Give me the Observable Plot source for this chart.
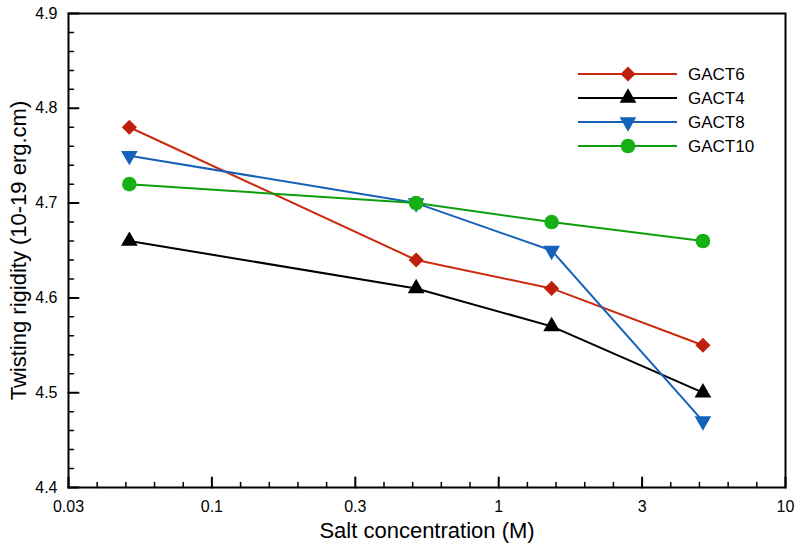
<!DOCTYPE html>
<html><head><meta charset="utf-8">
<script src="https://cdn.jsdelivr.net/npm/d3@7"></script>
<script src="https://cdn.jsdelivr.net/npm/@observablehq/plot@0.6"></script>
<style>
body{margin:0;background:#fff;font-family:"Liberation Sans",Arial,sans-serif}
g[aria-label="x-axis tick label"], g[aria-label="y-axis tick label"]{font-size:16px}
</style>
</head><body><div id="chart"></div>
<script>
// ---- data ----
const concentration = [0.05, 0.5, 1.5, 5];
const seriesNames = ["GACT6", "GACT4", "GACT8", "GACT10"];
const gact6 = [4.78, 4.64, 4.61, 4.55];
const gact4 = [4.66, 4.61, 4.57, 4.50];
const gact8 = [4.75, 4.70, 4.65, 4.47];
const gact10 = [4.72, 4.70, 4.68, 4.66];
const xTicks = [0.03, 0.1, 0.3, 1, 3, 10];
const xTickLabels = ["0.03", "0.1", "0.3", "1", "3", "10"];
const yTicks = [4.4, 4.5, 4.6, 4.7, 4.8, 4.9];
const yTickLabels = ["4.4", "4.5", "4.6", "4.7", "4.8", "4.9"];
const xTitle = "Salt concentration (M)";
const yTitle = "Twisting rigidity (10-19 erg.cm)";

// ---- styles ----
const values = [gact6, gact4, gact8, gact10];
const styles = [
  {line: "#cc2a0e", fill: "#bf200e", symbol: "diamond2", r: 6.8, rotate: 0},
  {line: "#000000", fill: "#000000", symbol: "triangle", r: 6.2, rotate: 0},
  {line: "#1660b8", fill: "#1463bb", symbol: "triangle", r: 6.2, rotate: 180},
  {line: "#0e9e0e", fill: "#14b014", symbol: "circle", r: 7.3, rotate: 0}
];

const rowsBySeries = seriesNames.map((name, i) =>
  concentration.map((c, j) => ({series: name, x: c, y: values[i][j]})));

// minor ticks
const xMinor = [];
for (let i = 0; i < xTicks.length - 1; i++)
  for (let k = 1; k < 5; k++) xMinor.push(xTicks[i] * Math.pow(xTicks[i + 1] / xTicks[i], k / 5));
const yMinor = d3.range(0, 26).filter(i => i % 5 !== 0).map(i => 4.4 + i * 0.02);

// inward tick shape for vectors
const tickShape = {draw(context, l) { context.moveTo(0, 0); context.lineTo(0, -l); }};
const xMin = xTicks[0], yMin = yTicks[0];

const seriesMarks = [];
rowsBySeries.forEach((rows, i) => {
  const s = styles[i];
  seriesMarks.push(Plot.line(rows, {x: "x", y: "y", stroke: s.line, strokeWidth: 2}));
  seriesMarks.push(Plot.dot(rows, {x: "x", y: "y", symbol: () => s.symbol, fill: s.fill, stroke: "none", r: s.r, rotate: s.rotate}));
});

const chart = Plot.plot({
  width: 800,
  height: 548,
  marginLeft: 68,
  marginRight: 15,
  marginTop: 13,
  marginBottom: 61,
  style: {fontFamily: "'Liberation Sans', Arial, sans-serif", fontSize: "16px", color: "black", background: "white"},
  x: {type: "log", domain: xTicks, label: null},
  y: {domain: [4.4, 4.9], label: null},
  symbol: {type: "identity"},
  marks: [
    Plot.vector(xMinor, {x: d => d, y: () => yMin, length: 5, rotate: 0, anchor: "start", shape: tickShape, stroke: "black", strokeWidth: 1.5}),
    Plot.vector(xTicks, {x: d => d, y: () => yMin, length: 10, rotate: 0, anchor: "start", shape: tickShape, stroke: "black", strokeWidth: 2}),
    Plot.vector(yMinor, {x: () => xMin, y: d => d, length: 5, rotate: 90, anchor: "start", shape: tickShape, stroke: "black", strokeWidth: 1.5}),
    Plot.vector(yTicks, {x: () => xMin, y: d => d, length: 10, rotate: 90, anchor: "start", shape: tickShape, stroke: "black", strokeWidth: 2}),
    Plot.axisX(xTicks, {tickSize: 0, tickPadding: 13, fontSize: 16, tickFormat: d => xTickLabels[xTicks.indexOf(d)], label: null}),
    Plot.axisY(yTicks, {tickSize: 0, tickPadding: 11, fontSize: 16, tickFormat: d => yTickLabels[yTicks.indexOf(d)], label: null}),
    Plot.frame({stroke: "black", strokeWidth: 2}),
    Plot.text([xTitle], {frameAnchor: "bottom", dy: 43, fontSize: 22, textAnchor: "middle", lineAnchor: "middle"}),
    Plot.text([yTitle], {frameAnchor: "left", dx: -50, rotate: -90, fontSize: 22, textAnchor: "middle", lineAnchor: "middle"}),
    ...seriesMarks
  ]
});
document.getElementById("chart").appendChild(chart);

// ---- legend (inside plot area, top-right) ----
const svg = d3.select(chart);
const lg = svg.append("g").attr("font-family", "'Liberation Sans', Arial, sans-serif").attr("font-size", 17).attr("text-anchor", "start");
const symMap = {diamond2: d3.symbolDiamond2, triangle: d3.symbolTriangle, circle: d3.symbolCircle};
seriesNames.forEach((name, i) => {
  const s = styles[i];
  const y = 74 + 24 * i;
  lg.append("line").attr("x1", 578).attr("x2", 677).attr("y1", y).attr("y2", y)
    .attr("stroke", s.line).attr("stroke-width", 2);
  lg.append("path").attr("d", d3.symbol(symMap[s.symbol], Math.PI * s.r * s.r)())
    .attr("transform", `translate(628,${y}) rotate(${s.rotate})`).attr("fill", s.fill);
  lg.append("text").attr("x", 688).attr("y", y).attr("dy", "0.36em").attr("fill", "black").attr("text-anchor", "start").text(name);
});
</script>
</body></html>
